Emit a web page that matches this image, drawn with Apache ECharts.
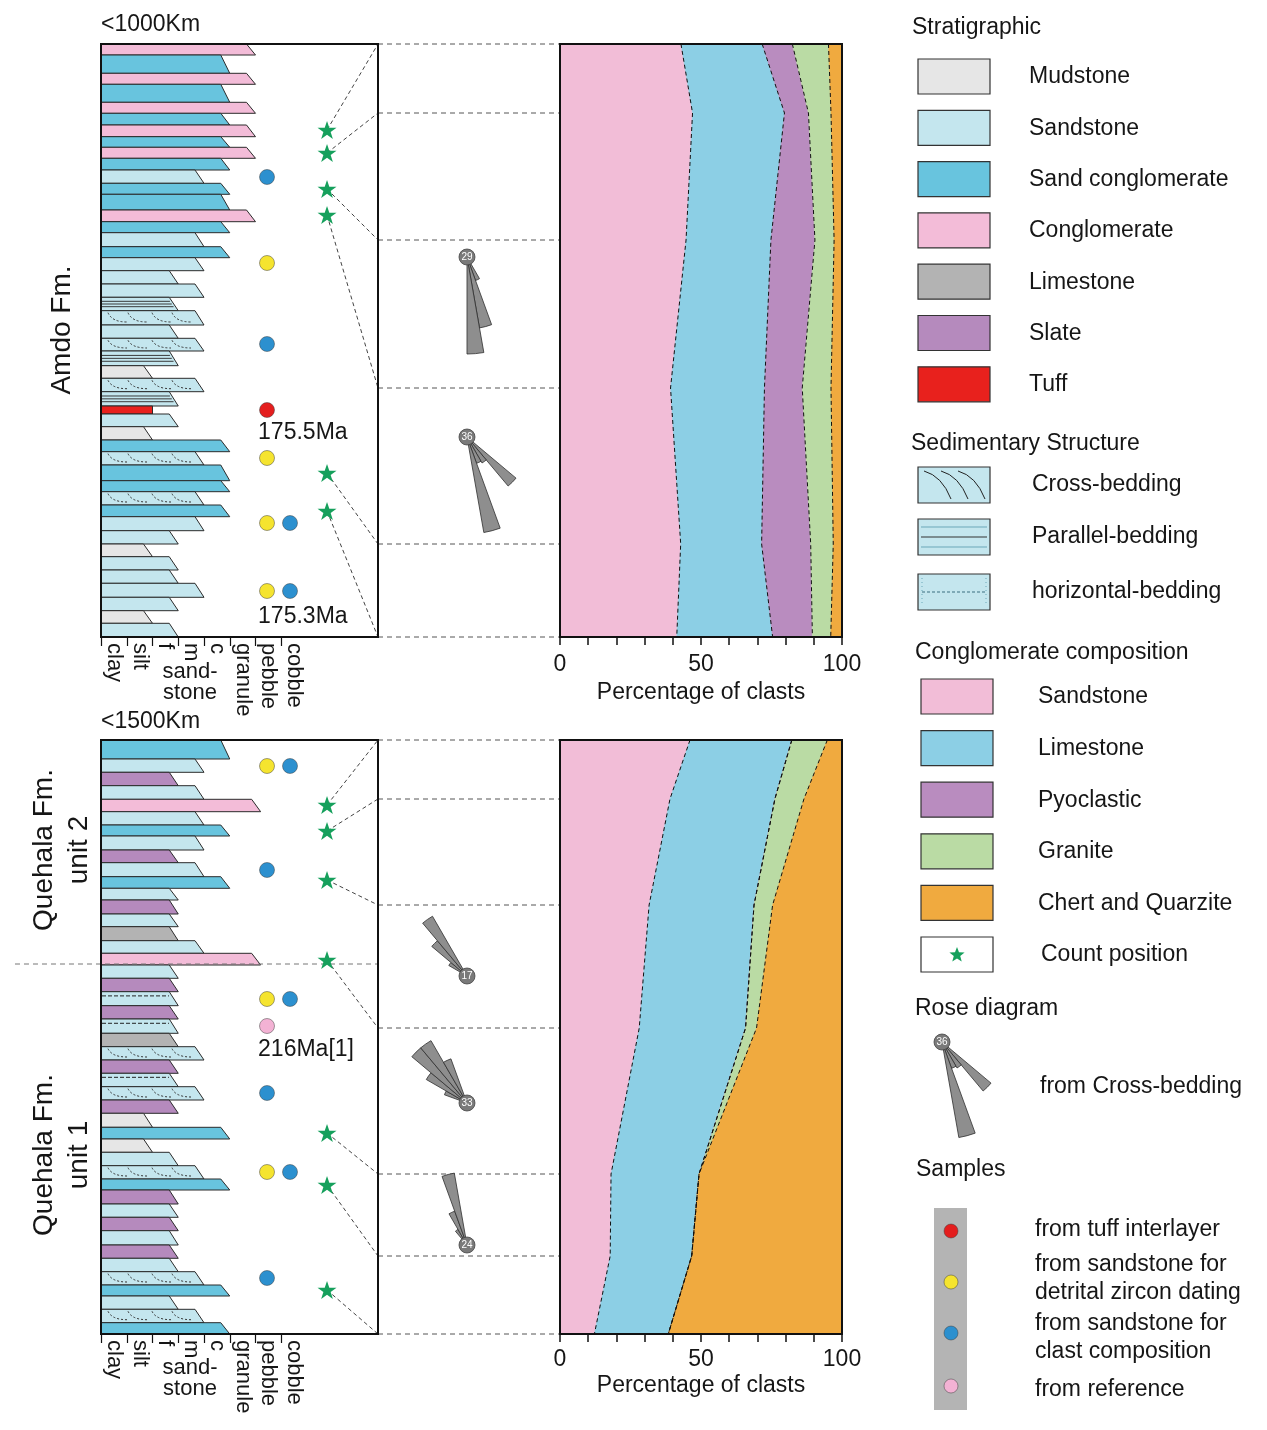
<!DOCTYPE html>
<html><head><meta charset="utf-8">
<script src="https://cdn.jsdelivr.net/npm/echarts@6/dist/echarts.min.js"></script>
<style>html,body{margin:0;padding:0;background:#fff}#c{width:1267px;height:1430px}</style>
</head><body><div id="c"></div>
<script>
// ================= DATA =================
const grainClasses = ['clay','silt','f','m','c','granule','pebble','cobble'];
const grainTicks = [0,1,2,3,4,5,6,7];
const grainLabelPos = [0.5,1.5,2.5,3.5,4.5,5.5,6.5,7.5];

// Amdo Fm. column (depth from top of section, base of each layer)
const amdoLith = ['C','SC','C','SC','C','SC','C','SC','C','SC','S','SC','SC','C','SC','S','SC','S','S','S','S','S','S','S','S','M','S','S','T','S','M','SC','S','SC','SC','S','SC','S','S','M','S','S','S','S','M','S'];
const amdoGrain = [6,5,6,5,6,5,6,5,6,5,4,5,5,6,5,4,5,4,3,4,3,4,3,4,3,2,4,3,2,3,2,5,4,5,5,4,5,4,3,2,3,3,4,3,2,3];
const amdoStruct = ['','','','','','','','','','','','','','','','','','','','','p','x','','x','p','','x','p','','','','','x','','','x','','','','','','','','','',''];
const amdoBase = [11,29.3,40.3,58.3,69.3,81,92.7,103.3,114.3,126,139.3,150.3,166,177.7,188.7,202.7,213.7,226.7,240,253.3,266.7,281,294.3,307,321.7,334.3,347.7,362,370,382.7,396,407.7,421,436.7,447.7,461,472.7,486.7,500,512.7,526,539.3,553.3,566.7,579.3,593];

// Quehala Fm. column
const quehLith = ['SC','S','SL','S','C','S','SC','S','SL','S','SC','S','SL','S','L','S','C','S','SL','S','SL','S','L','S','SL','S','S','SL','M','SC','M','S','S','SC','SL','S','SL','S','SL','S','S','SC','S','S','SC'];
const quehGrain = [5,4,3,4,6.2,4,5,4,3,4,5,3,3,3,3,4,6.2,3,3,3,3,3,3,4,3,3,4,3,2,5,2,3,4,5,3,3,3,3,3,3,4,5,3,4,5];
const quehStruct = ['','','','','','','','','','','','','','','','','','','','h','','h','','x','','h','x','','','','','','x','','','','','','','','x','','','x',''];
const quehBase = [19,32.3,45.7,59.3,71.7,85,96,110,122.7,136.7,148.3,160,174,186.7,200.7,213.3,225,238.3,251.7,265.7,279,293.3,306.7,320,333.3,346.7,360,373.3,387.3,399,412.3,425.7,439,450,464,477.3,490.7,505,518.3,531.7,545,556,569.3,582.7,594];
const quehUnitBoundary = 224;

// samples: [type, depth, slot]
const amdoSamples = [['clast',133,0],['zircon',219,0],['clast',300,0],['tuff',366,0],['zircon',414,0],['zircon',479,0],['clast',479,1],['zircon',547,0],['clast',547,1]];
const quehSamples = [['zircon',26,0],['clast',26,1],['clast',130,0],['zircon',259,0],['clast',259,1],['ref',286,0],['clast',353,0],['zircon',432,0],['clast',432,1],['clast',538,0]];
const amdoAges = [['175.5Ma',389],['175.3Ma',573]];
const quehAges = [['216Ma[1]',310]];

// clast count positions and the matching composition levels
const amdoCounts = [86,109,145,171,429,467];
const amdoLevels = [0,69,196,344,500,593];
const quehCounts = [65,91,140,220,393,445,550];
const quehLevels = [0,59,165,288,434,516,594];

// conglomerate composition (%) at each level: Sandstone, Limestone, Pyoclastic, Granite, Chert and Quarzite
const compNames = ['Sandstone','Limestone','Pyoclastic','Granite','Chert and Quarzite'];
const amdoSandstone = [42.9,47.0,44.7,39.2,42.8,41.4];
const amdoLimestone = [28.8,32.6,30.1,33.3,28.7,34.0];
const amdoPyoclastic = [10.7,8.5,15.6,13.4,17.4,14.1];
const amdoGranite = [12.8,8.0,6.8,10.2,8.0,6.5];
const amdoChert = [4.8,3.9,2.8,3.9,3.1,4.0];
const quehSandstone = [46.1,39.0,31.6,28.1,18.1,17.8,12.2];
const quehLimestone = [36.1,37.2,37.2,37.7,31.2,28.9,26.2];
const quehPyoclastic = [0,0,0,0,0,0,0];
const quehGranite = [12.6,10.3,6.6,3.9,0,0,0];
const quehChert = [5.2,13.5,24.6,30.3,50.7,53.3,61.6];

// rose diagrams: petals [azimuth from, azimuth to, length]
const rose29 = [[150,160,25],[160,170,72],[170,180,97]];
const rose36 = [[130,140,64],[140,150,30],[150,160,28],[160,170,97]];
const rose17 = [[300,310,21],[310,320,46],[320,330,69]];
const rose33 = [[290,300,24],[300,310,47],[310,320,72],[320,330,72],[330,340,47]];
const rose24 = [[320,330,18],[330,340,36],[340,350,73]];
const amdoRoses = [{n:29, depth:213, petals:rose29},{n:36, depth:393, petals:rose36}];
const quehRoses = [{n:17, depth:236, petals:rose17},{n:33, depth:363, petals:rose33},{n:24, depth:505, petals:rose24}];

// legend texts
const stratKeys = ['M','S','SC','C','L','SL','T'];
const stratNames = ['Mudstone','Sandstone','Sand conglomerate','Conglomerate','Limestone','Slate','Tuff'];
const structNames = ['Cross-bedding','Parallel-bedding','horizontal-bedding'];
const sampleKeys = ['tuff','zircon','clast','ref'];
const sampleNames = ['from tuff interlayer','from sandstone for\ndetrital zircon dating','from sandstone for\nclast composition','from reference'];

// ================= STYLE =================
const FONT = '"Liberation Sans", Arial, Helvetica, sans-serif';
const TXT = '#161616';
const lithColor = {M:'#e6e6e6', S:'#c4e6ee', SC:'#68c4de', C:'#f3bcd8', L:'#b3b3b3', SL:'#b58abd', T:'#e8211d'};
const compColor = ['#f2bdd7','#8ccfe5','#b98cbf','#badba4','#f0aa3f'];
const sampleColor = {tuff:'#e41e1e', zircon:'#f5e42f', clast:'#2c90cf', ref:'#f3b2d4'};
const STAR_COLOR = '#16a05c';
const SLANT = 9;
const COL_MAX = 10.757;
const SLOT_X = [6.447, 7.34];
const COUNT_X = 8.777;
const AGE_X = 6.1;
const ROSE_X = 0.489;
const STAR_PATH = 'path://M12,0 L14.9,8.6 L24,8.6 L16.6,14 L19.4,22.8 L12,17.4 L4.6,22.8 L7.4,14 L0,8.6 L9.1,8.6 Z';

function colBars(xi, lith, grain, struct, base) {
  return {
    type:'custom', xAxisIndex:xi, yAxisIndex:xi, z:2, silent:true,
    data: base.map((b,i)=>[grain[i], b, i===0?0:base[i-1]]),
    renderItem(params, api){
      const i = params.dataIndex;
      const g = api.value(0), b = api.value(1), t = api.value(2);
      const L = lith[i], st = struct[i];
      const pT = api.coord([0,t]), pB = api.coord([g,b]);
      const x0 = pT[0], yT = pT[1], xR = pB[0], yB = pB[1];
      const sl = L==='T' ? 0 : SLANT;
      const h = yB - yT;
      const edge = y => xR - sl*(1-(y-yT)/h);
      const ch = [{type:'polygon', shape:{points:[[x0,yT],[xR-sl,yT],[xR,yB],[x0,yB]]},
        style:{fill:lithColor[L], stroke:'#2b2b2b', lineWidth:1}}];
      if (st==='p') {
        [0.3,0.5,0.7].forEach(f=>{const y=yT+h*f; ch.push({type:'line', shape:{x1:x0+1,y1:y,x2:edge(y)-2,y2:y}, style:{stroke:'#3a3a3a', lineWidth:1}});});
      } else if (st==='h') {
        const y=yT+h*0.3; ch.push({type:'line', shape:{x1:x0+1,y1:y,x2:edge(y)-3,y2:y}, style:{stroke:'#222', lineWidth:1, lineDash:[4,2]}});
      } else if (st==='x') {
        [7,27,51,71].forEach(dx=>{const xs=x0+dx; ch.push({type:'bezierCurve', shape:{x1:xs,y1:yT+2,x2:xs+19,y2:yB-3,cpx1:xs+4,cpy1:yB-3}, style:{stroke:'#333', lineWidth:1, lineDash:[2,2], fill:'none'}});});
      }
      return {type:'group', children:ch};
    }
  };
}

function areaSeries(xi, levels, comps) {
  const cum = [levels.map(()=>0)];
  comps.forEach((c,k)=>cum.push(c.map((v,j)=>cum[k][j]+v)));
  return [{
    type:'custom', xAxisIndex:xi, yAxisIndex:xi, z:2, silent:true,
    data: comps.map((c,k)=>[k,0]),
    renderItem(params, api){
      const k = params.dataIndex, pts=[];
      levels.forEach((l,j)=>pts.push(api.coord([cum[k][j], l])));
      for (let j=levels.length-1;j>=0;j--) pts.push(api.coord([cum[k+1][j], levels[j]]));
      return {type:'polygon', shape:{points:pts}, style:{fill:compColor[k], stroke:compColor[k], lineWidth:0.5}};
    }
  },{
    type:'custom', xAxisIndex:xi, yAxisIndex:xi, z:3, silent:true,
    data: comps.slice(0,-1).map((c,k)=>[k,0]),
    renderItem(params, api){
      const k = params.dataIndex+1;
      const pts = levels.map((l,j)=>api.coord([cum[k][j], l]));
      return {type:'polyline', shape:{points:pts}, style:{stroke:'#111', lineWidth:1, lineDash:[4,3], fill:'none'}};
    }
  }];
}

function lineSeries(xi, rows, style, z) {
  return {type:'custom', xAxisIndex:xi, yAxisIndex:xi, z:z||3, silent:true, data:rows,
    renderItem(params, api){
      const a = api.coord([api.value(0), api.value(1)]), b = api.coord([api.value(2), api.value(3)]);
      return {type:'line', shape:{x1:a[0],y1:a[1],x2:b[0],y2:b[1]}, style:style};
    }};
}

function roseShapes(cx, cy, petals, n) {
  const ch = petals.map(p=>({type:'sector', shape:{cx:cx, cy:cy, r0:0, r:p[2], startAngle:(p[0]-90)*Math.PI/180, endAngle:(p[1]-90)*Math.PI/180, clockwise:true},
    style:{fill:'#8e8e8e', stroke:'#2e2e2e', lineWidth:0.8}}));
  ch.push({type:'circle', shape:{cx:cx, cy:cy, r:8}, style:{fill:'#7a7a7a', stroke:'#444', lineWidth:0.8}});
  ch.push({type:'text', x:cx, y:cy, style:{text:String(n), fill:'#fff', fontSize:10, fontFamily:FONT, align:'center', verticalAlign:'middle'}});
  return ch;
}

function roseSeries(xi, roses) {
  return {type:'custom', xAxisIndex:xi, yAxisIndex:xi, z:4, silent:true,
    data: roses.map(r=>[ROSE_X, r.depth]),
    renderItem(params, api){
      const r = roses[params.dataIndex];
      const c = api.coord([api.value(0), api.value(1)]);
      return {type:'group', children: roseShapes(c[0], c[1], r.petals, r.n)};
    }};
}

function sampleSeries(xi, samples) {
  return {type:'scatter', xAxisIndex:xi, yAxisIndex:xi, z:6, silent:true, symbol:'circle', symbolSize:15,
    data: samples.map(s=>({value:[SLOT_X[s[2]], s[1]], itemStyle:{color:sampleColor[s[0]], borderColor:'rgba(60,60,60,0.6)', borderWidth:0.8, opacity:1}}))};
}

function starSeries(xi, counts) {
  return {type:'scatter', xAxisIndex:xi, yAxisIndex:xi, z:6, silent:true, symbol:STAR_PATH, symbolKeepAspect:true, symbolSize:19,
    itemStyle:{color:STAR_COLOR, opacity:1}, data: counts.map(d=>[COUNT_X, d])};
}

function ageSeries(xi, ages) {
  return {type:'custom', xAxisIndex:xi, yAxisIndex:xi, z:6, silent:true,
    data: ages.map(a=>[AGE_X, a[1]]),
    renderItem(params, api){
      const c = api.coord([api.value(0), api.value(1)]);
      return {type:'text', x:c[0], y:c[1], style:{text:ages[params.dataIndex][0], fill:TXT, fontSize:23, fontFamily:FONT, align:'left', verticalAlign:'middle'}};
    }};
}

function frameSeries(xi) {
  return {type:'custom', xAxisIndex:xi, yAxisIndex:xi, z:20, silent:true, data:[[0,0]],
    renderItem(params){
      const c = params.coordSys;
      return {type:'rect', shape:{x:c.x, y:c.y, width:c.width, height:c.height}, style:{fill:'none', stroke:'#111', lineWidth:2}};
    }};
}

function colXAxis(gi) {
  return {type:'value', gridIndex:gi, min:0, max:COL_MAX, position:'bottom',
    axisLine:{show:false, onZero:false}, splitLine:{show:false},
    axisTick:{show:true, customValues:grainTicks, length:9, lineStyle:{color:'#111', width:1.2}},
    axisLabel:{show:true, customValues:grainLabelPos, rotate:-90, margin:6, fontSize:22, color:TXT, fontFamily:FONT,
      formatter:v=>grainClasses[Math.floor(v)]}};
}
function midXAxis(gi){ return {type:'value', gridIndex:gi, min:0, max:1, show:false, axisLine:{onZero:false}}; }
function areaXAxis(gi, labMargin, gap) {
  return {type:'value', gridIndex:gi, min:0, max:100, interval:10, position:'bottom',
    axisLine:{show:true, onZero:false, lineStyle:{color:'#111', width:2}}, splitLine:{show:false},
    axisTick:{show:true, length:8, lineStyle:{color:'#111', width:1.5}},
    axisLabel:{show:true, customValues:[0,50,100], margin:labMargin, fontSize:23, color:TXT, fontFamily:FONT},
    name:'Percentage of clasts', nameLocation:'middle', nameGap:gap, nameTextStyle:{fontSize:23, color:TXT, fontFamily:FONT}};
}
function yAx(gi, max){ return {type:'value', gridIndex:gi, min:0, max:max, inverse:true, show:false, axisLine:{onZero:false}}; }

const dashStyle = {stroke:'#444', lineWidth:1, lineDash:[4,3]};
const hStyle = {stroke:'#555', lineWidth:1, lineDash:[5,4]};

// ================= LEGEND (graphic) =================
function T(text, x, y, size, extra) {
  return {type:'text', x:x, y:y, z:10, style:Object.assign({text:text, fill:TXT, fontSize:size||23, fontFamily:FONT, align:'left', verticalAlign:'middle', lineHeight:28}, extra||{})};
}
function R(x, y, w, h, fill) {
  return {type:'rect', z:10, shape:{x:x, y:y, width:w, height:h}, style:{fill:fill, stroke:'#333', lineWidth:1.2}};
}
function starPts(cx, cy, R1, r1) {
  const p=[]; for (let i=0;i<10;i++){ const a=-Math.PI/2+i*Math.PI/5, rr=i%2?r1:R1; p.push([cx+rr*Math.cos(a), cy+rr*Math.sin(a)]); } return p;
}
const legend = [];
legend.push(T('Stratigraphic', 912, 28));
stratNames.forEach((n,i)=>{ const y0 = 59 + i*51.3; legend.push(R(918, y0, 72, 35, lithColor[stratKeys[i]])); legend.push(T(n, 1029, y0+18)); });
legend.push(T('Sedimentary Structure', 911, 444));
const sy = [467, 519, 574];
structNames.forEach((n,i)=>{ legend.push(R(918, sy[i], 72, 36, lithColor.S)); legend.push(T(n, 1032, sy[i]+18)); });
[924, 941, 958].forEach(xs=>legend.push({type:'bezierCurve', z:11, shape:{x1:xs, y1:471, x2:xs+27, y2:499, cpx1:xs+18, cpy1:476}, style:{stroke:'#222', lineWidth:1, fill:'none'}}));
[[527,'#6aa7b8'],[537,'#333'],[547,'#6aa7b8']].forEach(l=>legend.push({type:'line', z:11, shape:{x1:921, y1:l[0], x2:987, y2:l[0]}, style:{stroke:l[1], lineWidth:1}}));
legend.push({type:'line', z:11, shape:{x1:922, y1:592, x2:986, y2:592}, style:{stroke:'#3a6f80', lineWidth:1, lineDash:[3,2]}});
legend.push({type:'line', z:11, shape:{x1:922, y1:578, x2:922, y2:606}, style:{stroke:'#6aa7b8', lineWidth:1, lineDash:[1,3]}});
legend.push({type:'line', z:11, shape:{x1:986, y1:578, x2:986, y2:606}, style:{stroke:'#6aa7b8', lineWidth:1, lineDash:[1,3]}});
legend.push(T('Conglomerate composition', 915, 653));
compNames.forEach((n,i)=>{ const y0 = 679 + i*51.6; legend.push(R(921, y0, 72, 35, compColor[i])); legend.push(T(n, 1038, y0+18)); });
legend.push(R(921, 937, 72, 35, '#fff'));
legend.push({type:'polygon', z:11, shape:{points:starPts(957, 955, 8, 3.4)}, style:{fill:STAR_COLOR}});
legend.push(T('Count position', 1041, 955));
legend.push(T('Rose diagram', 915, 1009));
legend.push({type:'group', z:10, children: roseShapes(942, 1042, rose36, 36)});
legend.push(T('from Cross-bedding', 1040, 1087));
legend.push(T('Samples', 916, 1170));
legend.push({type:'rect', z:10, shape:{x:934, y:1208, width:33, height:202}, style:{fill:'#b4b4b4'}});
const sdy = [1231, 1282, 1333, 1386];
const sly = [1230, 1279, 1338, 1390];
sampleKeys.forEach((k,i)=>{
  legend.push({type:'circle', z:11, shape:{cx:951, cy:sdy[i], r:7}, style:{fill:sampleColor[k], stroke:'rgba(60,60,60,0.6)', lineWidth:0.8}});
  legend.push(T(sampleNames[i], 1035, sly[i]));
});

// titles / side labels
legend.push(T('<1000Km', 101, 25));
legend.push(T('<1500Km', 101, 722));
legend.push(T('Amdo Fm.', 62, 330, 28, {align:'center'}));
legend[legend.length-1].rotation = Math.PI/2;
legend.push(T('Quehala Fm.\nunit 2', 62, 850, 28, {align:'center', lineHeight:35}));
legend[legend.length-1].rotation = Math.PI/2;
legend.push(T('Quehala Fm.\nunit 1', 62, 1155, 28, {align:'center', lineHeight:35}));
legend[legend.length-1].rotation = Math.PI/2;
legend.push(T('sand-\nstone', 190, 682, 22, {align:'center', lineHeight:21}));
legend.push(T('sand-\nstone', 190, 1378, 22, {align:'center', lineHeight:21}));

// ================= OPTION =================
const chart = echarts.init(document.getElementById('c'), null, {renderer:'canvas'});
const gridBase = {containLabel:false, outerBoundsMode:'none'};
const option = {
  animation:false,
  backgroundColor:'#ffffff',
  textStyle:{fontFamily:FONT},
  grid:[
    Object.assign({left:101, top:44, width:277, height:593}, gridBase),
    Object.assign({left:378, top:44, width:182, height:593}, gridBase),
    Object.assign({left:560, top:44, width:282, height:593}, gridBase),
    Object.assign({left:101, top:740, width:277, height:594}, gridBase),
    Object.assign({left:378, top:740, width:182, height:594}, gridBase),
    Object.assign({left:560, top:740, width:282, height:594}, gridBase)
  ],
  xAxis:[colXAxis(0), midXAxis(1), areaXAxis(2, 16, 44), colXAxis(3), midXAxis(4), areaXAxis(5, 14, 40)],
  yAxis:[yAx(0,593), yAx(1,593), yAx(2,593), yAx(3,594), yAx(4,594), yAx(5,594)],
  series:[
    colBars(0, amdoLith, amdoGrain, amdoStruct, amdoBase),
    colBars(3, quehLith, quehGrain, quehStruct, quehBase),
    ...areaSeries(2, amdoLevels, [amdoSandstone, amdoLimestone, amdoPyoclastic, amdoGranite, amdoChert]),
    ...areaSeries(5, quehLevels, [quehSandstone, quehLimestone, quehPyoclastic, quehGranite, quehChert]),
    lineSeries(1, amdoLevels.map(l=>[0,l,1,l]), hStyle),
    lineSeries(4, quehLevels.map(l=>[0,l,1,l]), hStyle),
    lineSeries(0, amdoCounts.map((d,i)=>[COUNT_X,d,COL_MAX,amdoLevels[i]]), dashStyle),
    lineSeries(3, quehCounts.map((d,i)=>[COUNT_X,d,COL_MAX,quehLevels[i]]), dashStyle),
    lineSeries(3, [[-3.34, quehUnitBoundary, COL_MAX, quehUnitBoundary]], {stroke:'#777', lineWidth:1, lineDash:[5,4]}, 4),
    roseSeries(1, amdoRoses),
    roseSeries(4, quehRoses),
    sampleSeries(0, amdoSamples),
    sampleSeries(3, quehSamples),
    starSeries(0, amdoCounts),
    starSeries(3, quehCounts),
    ageSeries(0, amdoAges),
    ageSeries(3, quehAges),
    frameSeries(0), frameSeries(2), frameSeries(3), frameSeries(5)
  ],
  graphic:{elements:legend}
};
chart.setOption(option);
</script>
</body></html>
